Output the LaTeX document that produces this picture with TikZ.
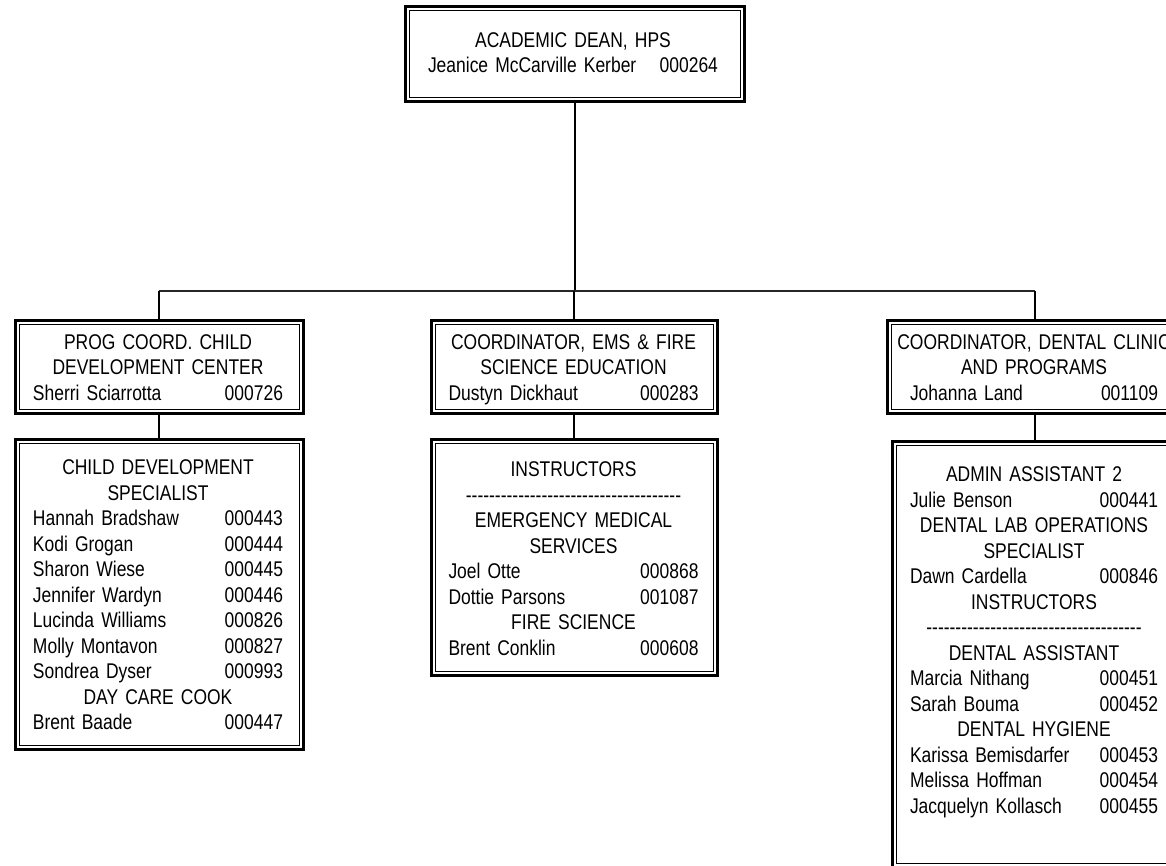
\documentclass[tikz,border=0pt]{standalone}
\usepackage{fontspec}
\setmainfont{Liberation Sans}[FakeStretch=0.82]
\newcommand\pr[2]{\makebox[\linewidth][l]{#1\hfill #2}}
\newcommand\dashrow{\mbox{\foreach \k in {1,...,37}{-{}}}}
\tikzset{
  box/.style={draw, line width=3pt, rectangle, inner sep=0pt, outer sep=0pt},
  innerline/.style={line width=1pt},
  lbl/.style={anchor=north, inner sep=0pt, outer sep=0pt, align=center, text width=250pt,
    font=\fontsize{21.3}{25.5}\selectfont},
  vline/.style={line width=2pt},
  hline/.style={line width=1.5pt, black!85},
}
\begin{document}
\begin{tikzpicture}[x=1pt, y=-1pt]
\useasboundingbox (0,0) rectangle (1166,866);
\fill[white] (0,0) rectangle (1166,866);
\clip (0,0) rectangle (1166,866);
% boxes
\node[box, minimum width=339pt, minimum height=95pt] (top) at (574.5,54.5) {};
\node[box, minimum width=288pt, minimum height=93pt] (L1) at (159,366.5) {};
\node[box, minimum width=288pt, minimum height=310pt] (L2) at (159,594) {};
\node[box, minimum width=286pt, minimum height=93pt] (M1) at (574,366.5) {};
\node[box, minimum width=286pt, minimum height=236pt] (M2) at (574,557) {};
\node[box, minimum width=295pt, minimum height=93pt] (R1) at (1034.5,366.5) {};
\node[box, minimum width=285pt, minimum height=426pt] (R2) at (1034.5,654) {};
\foreach \n in {top,L1,L2,M1,M2,R1,R2}
  \draw[innerline] ([shift={(4pt,-4pt)}]\n.north west) rectangle ([shift={(-4pt,4pt)}]\n.south east);
% texts
\node[lbl, text width=290pt] (ttop) at (573,32.5) {ACADEMIC DEAN, HPS\\
  \pr{Jeanice McCarville Kerber}{000264}};
\node[lbl] (tL1) at (158,334.5) {PROG COORD. CHILD\\DEVELOPMENT CENTER\\
  \pr{Sherri Sciarrotta}{000726}};
\node[lbl] (tL2) at (158,460) {CHILD DEVELOPMENT\\SPECIALIST\\
  \pr{Hannah Bradshaw}{000443}\\
  \pr{Kodi Grogan}{000444}\\
  \pr{Sharon Wiese}{000445}\\
  \pr{Jennifer Wardyn}{000446}\\
  \pr{Lucinda Williams}{000826}\\
  \pr{Molly Montavon}{000827}\\
  \pr{Sondrea Dyser}{000993}\\
  DAY CARE COOK\\
  \pr{Brent Baade}{000447}};
\node[lbl] (tM1) at (573.5,334.5) {COORDINATOR, EMS \& FIRE\\SCIENCE EDUCATION\\
  \pr{Dustyn Dickhaut}{000283}};
\node[lbl] (tM2) at (573.5,462) {INSTRUCTORS\\
  \dashrow\\
  EMERGENCY MEDICAL\\SERVICES\\
  \pr{Joel Otte}{000868}\\
  \pr{Dottie Parsons}{001087}\\
  FIRE SCIENCE\\
  \pr{Brent Conklin}{000608}};
\node[lbl, text width=248pt] (tR1) at (1034,334.5) {\makebox[\linewidth]{COORDINATOR, DENTAL CLINIC}\\AND PROGRAMS\\
  \pr{Johanna Land}{001109}};
\node[lbl, text width=248pt] (tR2) at (1034,467) {ADMIN ASSISTANT 2\\
  \pr{Julie Benson}{000441}\\
  DENTAL LAB OPERATIONS\\SPECIALIST\\
  \pr{Dawn Cardella}{000846}\\
  INSTRUCTORS\\
  \dashrow\\
  DENTAL ASSISTANT\\
  \pr{Marcia Nithang}{000451}\\
  \pr{Sarah Bouma}{000452}\\
  DENTAL HYGIENE\\
  \pr{Karissa Bemisdarfer}{000453}\\
  \pr{Melissa Hoffman}{000454}\\
  \pr{Jacquelyn Kollasch}{000455}};
% connectors
\coordinate (bus) at (0,291);
\draw[vline] (top.south) -- (top.south |- bus);
\draw[hline] (L1.north |- bus) -- (R1.north |- bus);
\draw[vline] (L1.north |- bus) -- (L1.north);
\draw[vline] (M1.north |- bus) -- (M1.north);
\draw[vline] (R1.north |- bus) -- (R1.north);
\draw[vline] (L1.south) -- (L2.north);
\draw[vline] (M1.south) -- (M2.north);
\draw[vline] (R1.south) -- (R2.north);
\end{tikzpicture}
\end{document}
